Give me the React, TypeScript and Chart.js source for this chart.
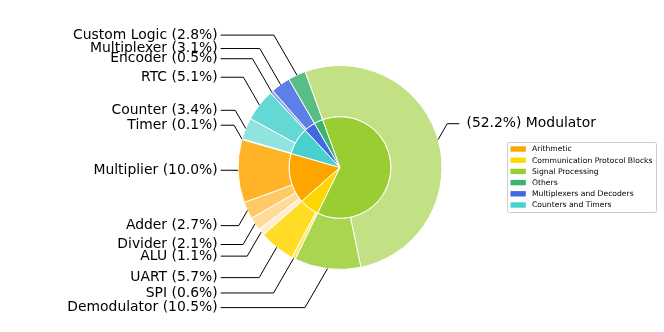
import { useEffect, useRef } from "react";
import { Chart, registerables } from "chart.js";

Chart.register(...registerables);

// Legend categories (legend order) and their base colours
const categories = [
  "Arithmetic",
  "Communication Protocol Blocks",
  "Signal Processing",
  "Others",
  "Multiplexers and Decoders",
  "Counters and Timers",
];
const categoryColors = ["#FFA500", "#FFD700", "#9ACD32", "#3CB371", "#4169E1", "#48D1CC"];

// Order of the categories around the inner ring (counter-clockwise)
const ringOrder = [2, 3, 4, 5, 0, 1];

// Outer ring: sub-components (counter-clockwise), their shares (%) and parent category index
const subLabels = [
  "Demodulator", "Modulator",
  "Custom Logic",
  "Multiplexer", "Encoder",
  "RTC", "Counter", "Timer",
  "Multiplier", "Adder", "Divider", "ALU",
  "UART", "SPI",
];
const subValues = [10.5, 52.2, 2.8, 3.1, 0.5, 5.1, 3.4, 0.1, 10.0, 2.7, 2.1, 1.1, 5.7, 0.6];
const subParent = [2, 2, 3, 4, 4, 5, 5, 5, 0, 0, 0, 0, 1, 1];

const shadeAlphas = [0.85, 0.6, 0.4, 0.2];

function tint(hex: string, a: number) {
  const r = parseInt(hex.slice(1, 3), 16);
  const g = parseInt(hex.slice(3, 5), 16);
  const b = parseInt(hex.slice(5, 7), 16);
  const m = (c: number) => Math.round(255 - a * (255 - c));
  return `rgb(${m(r)},${m(g)},${m(b)})`;
}

export default function App() {
  const ref = useRef<HTMLCanvasElement>(null);

  useEffect(() => {
    const canvas = ref.current!;

    // sub-slice colours: shade by position within parent
    const seen: Record<number, number> = {};
    const subColors = subLabels.map((_, i) => {
      const p = subParent[i];
      const k = seen[p] ?? 0;
      seen[p] = k + 1;
      return tint(categoryColors[p], shadeAlphas[k]);
    });
    const innerValues = ringOrder.map((c) =>
      subValues.reduce((s, v, i) => (subParent[i] === c ? s + v : s), 0)
    );
    const innerColors = ringOrder.map((c) => categoryColors[c]);

    // Chart.js draws clockwise: reverse the counter-clockwise order
    const outerData = [...subValues].reverse();
    const outerColors = [...subColors].reverse();
    const outerNames = [...subLabels].reverse();
    const innerData = [...innerValues].reverse();
    const innerCols = [...innerColors].reverse();

    const labelPlugin = {
      id: "labels",
      afterDraw(chart: any) {
        const ctx = chart.ctx as CanvasRenderingContext2D;
        const meta = chart.getDatasetMeta(0);
        const arcs = meta.data as any[];
        const first = arcs[0];
        const cx = first.x;
        const cy = first.y;
        const R = first.outerRadius;
        ctx.save();
        ctx.font = "13.9px 'DejaVu Sans'";
        ctx.textBaseline = "middle";
        ctx.strokeStyle = "#000";
        ctx.lineWidth = 1;
        ctx.fillStyle = "#000";
        arcs.forEach((arc, i) => {
          const a = (arc.startAngle + arc.endAngle) / 2;
          const px = cx + R * Math.cos(a);
          const py = cy + R * Math.sin(a);
          const left = Math.cos(a) < 0;
          const ty = cy - (left ? 2.3 : 4.5) + 1.407 * R * Math.sin(a);
          const dy = Math.abs(ty - py);
          const cornerX = left ? px - dy / Math.sqrt(3) : px + dy / Math.sqrt(3);
          const endX = left ? cx - 1.17 * R : cx + 1.17 * R;
          ctx.beginPath();
          ctx.moveTo(px, py);
          ctx.lineTo(cornerX, ty);
          ctx.lineTo(endX, ty);
          ctx.stroke();
          const pct = (outerData[i] as number).toFixed(1);
          if (left) {
            ctx.textAlign = "right";
            ctx.fillText(`${outerNames[i]} (${pct}%)`, cx - 1.2 * R, ty);
          } else {
            ctx.textAlign = "left";
            ctx.fillText(`(${pct}%) ${outerNames[i]}`, cx + 1.24 * R, ty);
          }
        });

        // legend
        const lx = 507.5, ly = 142.5, lw = 149, lh = 70;
        ctx.beginPath();
        ctx.roundRect(lx, ly, lw, lh, 2);
        ctx.fillStyle = "rgba(255,255,255,0.8)";
        ctx.fill();
        ctx.strokeStyle = "#cccccc";
        ctx.lineWidth = 1;
        ctx.stroke();
        ctx.font = "7.65px 'DejaVu Sans'";
        ctx.textAlign = "left";
        ctx.textBaseline = "middle";
        categories.forEach((name, i) => {
          const y = 149 + i * 11.2;
          ctx.fillStyle = categoryColors[i];
          ctx.fillRect(510.5, y - 2.7, 15.3, 5.4);
          ctx.fillStyle = "#000";
          ctx.fillText(name, 532, y + 0.5);
        });
        ctx.restore();
      },
    };

    const chart = new Chart(canvas, {
      type: "doughnut",
      data: {
        labels: outerNames,
        datasets: [
          {
            data: outerData,
            backgroundColor: outerColors,
            borderColor: "#ffffff",
            borderWidth: 1,
            hoverBorderWidth: 1,
            hoverOffset: 0,
            offset: 0,
          },
          {
            data: innerData,
            backgroundColor: innerCols,
            borderColor: "#ffffff",
            borderWidth: 1,
            hoverBorderWidth: 1,
            hoverOffset: 0,
            offset: 0,
          },
        ],
      },
      options: {
        responsive: false,
        animation: false,
        devicePixelRatio: 1,
        rotation: 206,
        cutout: 0,
        events: [],
        layout: { padding: { left: 237.5, right: 221.5, top: 65, bottom: 62 } },
        plugins: { legend: { display: false }, tooltip: { enabled: false } },
      } as any,
      plugins: [labelPlugin],
    });
    return () => chart.destroy();
  }, []);

  return (
    <div style={{ position: "absolute", left: 0, top: 0, width: 664, height: 332 }}>
      <canvas ref={ref} width={664} height={332} style={{ width: 664, height: 332 }} />
    </div>
  );
}
